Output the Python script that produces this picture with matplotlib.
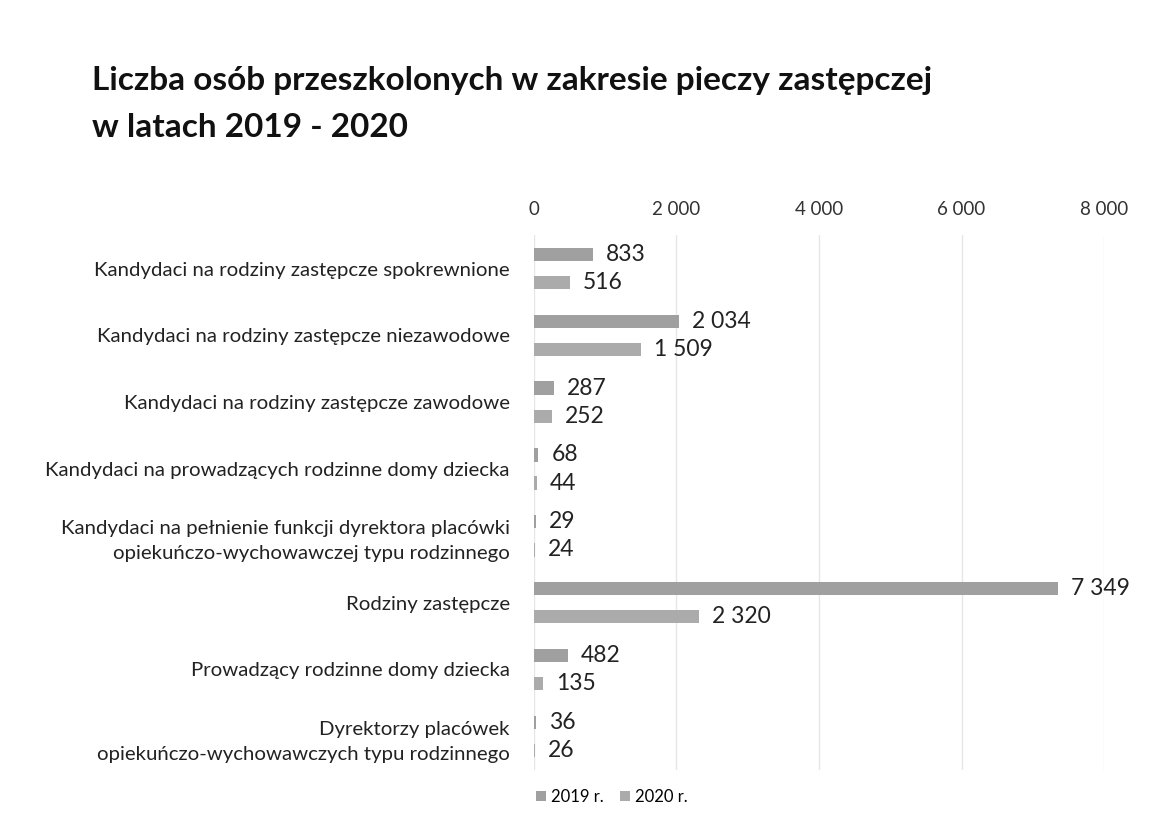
import numpy as np
import matplotlib.pyplot as plt

plt.rcParams['font.family'] = ['Lato', 'DejaVu Sans']

# Dane
categories = [
    'Kandydaci na rodziny zastępcze spokrewnione',
    'Kandydaci na rodziny zastępcze niezawodowe',
    'Kandydaci na rodziny zastępcze zawodowe',
    'Kandydaci na prowadzących rodzinne domy dziecka',
    'Kandydaci na pełnienie funkcji dyrektora placówki\nopiekuńczo-wychowawczej typu rodzinnego',
    'Rodziny zastępcze',
    'Prowadzący rodzinne domy dziecka',
    'Dyrektorzy placówek\nopiekuńczo-wychowawczych typu rodzinnego',
]
v2019 = [833, 2034, 287, 68, 29, 7349, 482, 36]
v2020 = [516, 1509, 252, 44, 24, 2320, 135, 26]
xticks = [0, 2000, 4000, 6000, 8000]


def fmt(v):
    return f'{v:,}'.replace(',', ' ')


fig = plt.figure(figsize=(11.55, 8.25), dpi=100)
ax = fig.add_axes([0.462, 0.067, 0.494, 0.648])

y = np.arange(len(categories))
h = 0.2
ax.barh(y - 0.21, v2019, height=h, color='#a0a0a0', label='2019 r.')
ax.barh(y + 0.21, v2020, height=h, color='#ababab', label='2020 r.')

for yi, a, b in zip(y, v2019, v2020):
    ax.text(a + 180, yi - 0.21, fmt(a), va='center', ha='left', fontsize=16.5, color='#222222')
    ax.text(b + 180, yi + 0.21, fmt(b), va='center', ha='left', fontsize=16.5, color='#222222')

ax.set_ylim(len(categories) - 0.5, -0.5)
ax.set_xlim(0, 8000)
ax.set_xticks(xticks)
ax.set_xticklabels([fmt(t) for t in xticks], fontsize=13.5, color='#333333')
ax.xaxis.tick_top()
ax.tick_params(axis='x', length=0, pad=12)
ax.set_yticks(y)
ax.set_yticklabels(categories, fontsize=14.7, color='#222222', ha='right', linespacing=1.55)
ax.tick_params(axis='y', length=0, pad=17)
for lbl in ax.get_yticklabels():
    lbl.set_multialignment('right')

ax.grid(axis='x', color='#e6e6e6', linewidth=1)
ax.set_axisbelow(True)
for s in ax.spines.values():
    s.set_visible(False)

fig.text(0.08, 0.874, 'Liczba osób przeszkolonych w zakresie pieczy zastępczej\nw latach 2019 - 2020',
         fontsize=24, fontweight='bold', color='#111111', va='center', ha='left', linespacing=1.75)

fig.legend(loc='center', bbox_to_anchor=(0.53, 0.034), ncol=2, frameon=False,
           fontsize=12, handlelength=0.6, handleheight=0.6, columnspacing=1.0, handletextpad=0.3)

fig.savefig('out.png', dpi=100, facecolor='white')
